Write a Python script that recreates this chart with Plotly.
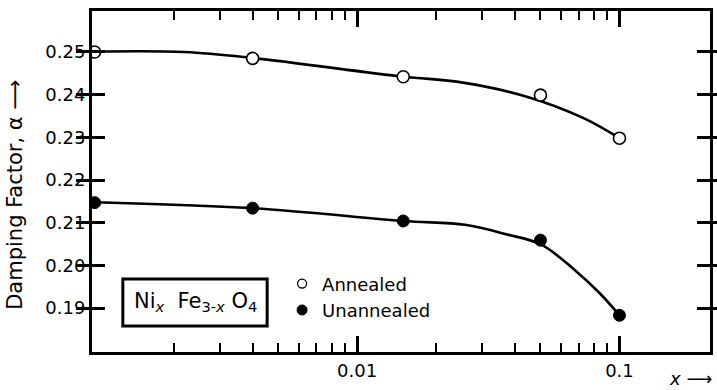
import plotly.graph_objects as go

# Measured damping factor vs. Ni content x in Ni_x Fe_(3-x) O_4
x_meas = [0.001, 0.004, 0.015, 0.05, 0.1]
alpha_annealed = [0.2500, 0.2485, 0.2442, 0.2399, 0.2298]
alpha_unannealed = [0.2147, 0.2134, 0.2104, 0.2059, 0.1883]

# Hand-drawn smooth curves through each series
fit_x_annealed = [0.001, 0.0022, 0.004, 0.015, 0.0243, 0.0434, 0.073, 0.1]
fit_y_annealed = [0.2501, 0.2500, 0.2486, 0.2442, 0.2430, 0.2397, 0.2345, 0.2298]
fit_x_unannealed = [0.001, 0.004, 0.015, 0.0258, 0.0375, 0.0502, 0.067, 0.0843, 0.1]
fit_y_unannealed = [0.2148, 0.2134, 0.2104, 0.2095, 0.2072, 0.2049, 0.1991, 0.1934, 0.1883]

y_ticks = [0.19, 0.20, 0.21, 0.22, 0.23, 0.24, 0.25]
x_major = [0.01, 0.1]
x_major_text = ["0.01", "0.1"]
x_minor = [0.002, 0.003, 0.004, 0.005, 0.006, 0.007, 0.008, 0.009,
           0.02, 0.03, 0.04, 0.05, 0.06, 0.07, 0.08, 0.09]

FONT = "DejaVu Sans"
INK = "black"
X_RANGE = [-3.01, -0.655]

fig = go.Figure()

for fx, fy in ((fit_x_annealed, fit_y_annealed),
               (fit_x_unannealed, fit_y_unannealed)):
    fig.add_trace(go.Scatter(
        x=fx, y=fy, mode="lines", xaxis="x",
        line=dict(color=INK, width=2.6, shape="spline", smoothing=1.0),
        showlegend=False, hoverinfo="skip"))

# Data points sit on the overlay axis (same log scale and range)
fig.add_trace(go.Scatter(
    x=x_meas, y=alpha_annealed, mode="markers", name="Annealed", xaxis="x2",
    marker=dict(symbol="circle", size=12, color="white",
                line=dict(color=INK, width=1.6)),
    showlegend=False))
fig.add_trace(go.Scatter(
    x=x_meas, y=alpha_unannealed, mode="markers", name="Unannealed", xaxis="x2",
    marker=dict(symbol="circle", size=12, color=INK,
                line=dict(color=INK, width=1)),
    showlegend=False))

# Legend keys use slightly smaller symbols
fig.add_trace(go.Scatter(
    x=[None], y=[None], mode="markers", name="Annealed",
    marker=dict(symbol="circle", size=9, color="white",
                line=dict(color=INK, width=1.3))))
fig.add_trace(go.Scatter(
    x=[None], y=[None], mode="markers", name="Unannealed",
    marker=dict(symbol="circle", size=10, color=INK,
                line=dict(color=INK, width=1))))

# Bottom axis: minor ticks plus the labelled decades
fig.update_layout(xaxis=dict(
    type="log", range=X_RANGE,
    tickmode="array", tickvals=x_minor + x_major,
    ticktext=[" "] * len(x_minor) + x_major_text,
    ticks="inside", ticklen=9, tickwidth=2, tickcolor=INK,
    showline=True, linewidth=3, linecolor=INK, mirror="allticks",
    showgrid=False, zeroline=False,
    tickfont=dict(family=FONT, size=18, color=INK)))

# Overlay axis carrying the longer decade ticks
fig.update_layout(xaxis2=dict(
    type="log", range=X_RANGE, overlaying="x", anchor="y", side="bottom",
    tickmode="array", tickvals=x_major, showticklabels=False,
    ticks="inside", ticklen=16, tickwidth=2.5, tickcolor=INK,
    showline=False, mirror="ticks", showgrid=False, zeroline=False))

fig.update_layout(yaxis=dict(
    range=[0.1797, 0.2596],
    tickmode="array", tickvals=y_ticks, tickformat=".2f",
    ticks="inside", ticklen=13, tickwidth=2.5, tickcolor=INK,
    showline=True, linewidth=3, linecolor=INK, mirror="allticks",
    showgrid=False, zeroline=False,
    tickfont=dict(family=FONT, size=18, color=INK)))

# Vertical axis label with upward arrow
fig.add_annotation(xref="paper", yref="paper", x=-0.124, y=0.462,
                   text="Damping Factor, α ⟶", textangle=-90,
                   showarrow=False, xanchor="center", yanchor="middle",
                   font=dict(family=FONT, size=21, color=INK))

# Composition label in a framed box
fig.add_shape(type="rect", xref="paper", yref="paper",
              x0=0.0499, x1=0.2834, y0=0.0762, y1=0.2141,
              line=dict(color=INK, width=3), fillcolor="white")
fig.add_annotation(xref="paper", yref="paper", x=0.1667, y=0.148,
                   xanchor="center", yanchor="middle",
                   text="Ni<sub><i>x</i></sub>  Fe<sub>3-<i>x</i></sub> O<sub>4</sub>",
                   showarrow=False,
                   font=dict(family=FONT, size=21, color=INK))

# x-axis label with arrow
fig.add_annotation(xref="paper", yref="paper", x=0.93, y=-0.078,
                   text="<i>x</i> ⟶", showarrow=False,
                   xanchor="left", yanchor="middle",
                   font=dict(family=FONT, size=18, color=INK))

fig.update_layout(
    width=717, height=390,
    margin=dict(l=92, r=4, t=11, b=38),
    paper_bgcolor="white", plot_bgcolor="white",
    font=dict(family=FONT, color=INK),
    legend=dict(x=0.3076, y=0.254, xanchor="left", yanchor="top",
                bgcolor="rgba(0,0,0,0)", borderwidth=0,
                font=dict(family=FONT, size=18, color=INK),
                itemsizing="trace", tracegroupgap=0),
)

fig.write_html("out.html")
